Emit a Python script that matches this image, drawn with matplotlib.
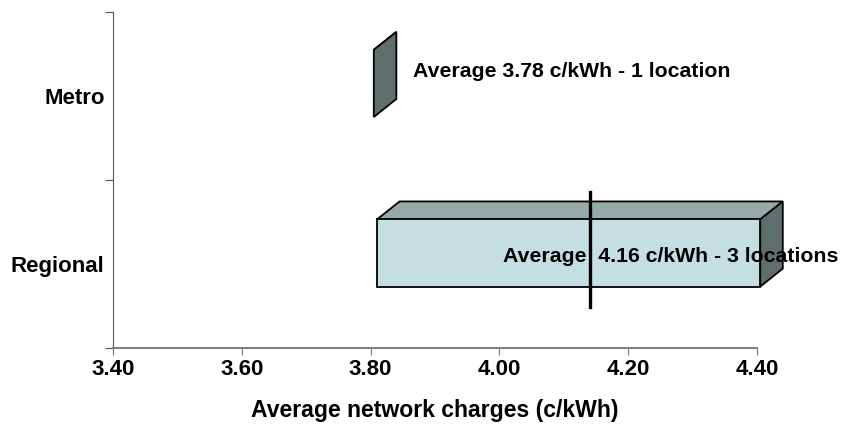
import matplotlib.pyplot as plt
from matplotlib.patches import Polygon

plt.rcParams['font.family'] = ['Liberation Sans', 'DejaVu Sans']
plt.rcParams['font.weight'] = 'bold'

categories = ['Regional', 'Metro']
bar_start = [3.81, 3.805]
bar_end = [4.405, 3.805]
avg_line = [4.14, None]
labels = ['Average  4.16 c/kWh - 3 locations', 'Average 3.78 c/kWh - 1 location']
label_x = [4.006, 3.866]

front_c = '#c5dee1'
top_c = '#95a9a9'
side_c = '#5f6f6e'

fig = plt.figure(figsize=(8.43, 4.30), dpi=100)
ax = fig.add_axes([0.134, 0.191, 0.764, 0.781])

h = 0.40
dx, dy = 0.035, 0.107
centers = [0.565, 1.575]

for i in range(len(categories)):
    x0, x1 = bar_start[i], bar_end[i]
    y0, y1 = centers[i] - h / 2, centers[i] + h / 2
    # top face
    ax.add_patch(Polygon([(x0, y1), (x1, y1), (x1 + dx, y1 + dy), (x0 + dx, y1 + dy)],
                         closed=True, fc=top_c, ec='black', lw=1.3, zorder=2, clip_on=False))
    # side face
    ax.add_patch(Polygon([(x1, y0), (x1, y1), (x1 + dx, y1 + dy), (x1 + dx, y0 + dy)],
                         closed=True, fc=side_c, ec='black', lw=1.3, zorder=2, clip_on=False))
    if x1 > x0:
        ax.barh(centers[i], x1 - x0, left=x0, height=h, color=front_c,
                edgecolor='black', linewidth=1.3, zorder=3, clip_on=False)
    if avg_line[i] is not None:
        ax.plot([avg_line[i], avg_line[i]], [0.244, 0.929], color='black', lw=2.4, zorder=4)
    ax.text(label_x[i], centers[i] - 0.02 if i == 0 else centers[i] + 0.07, labels[i],
            fontsize=15.3, fontweight='bold', va='center', ha='left', zorder=5)

ax.set_xlim(3.40, 4.40)
ax.set_ylim(0, 2)
ax.set_xticks([3.40, 3.60, 3.80, 4.00, 4.20, 4.40])
ax.set_xticklabels(['3.40', '3.60', '3.80', '4.00', '4.20', '4.40'], fontsize=16, fontweight='bold')
ax.set_yticks([0, 1, 2])
ax.set_yticklabels([])
ax.set_yticks([0.5, 1.5], minor=True)
ax.set_yticklabels(categories, minor=True, fontsize=16, fontweight='bold')
ax.tick_params(axis='y', which='minor', length=0, pad=6)
ax.tick_params(axis='y', which='major', length=6, color='#555555')
ax.tick_params(axis='x', length=5, color='#777777', pad=3)

for s in ['top', 'right']:
    ax.spines[s].set_visible(False)
ax.spines['left'].set_color('#555555')
ax.spines['bottom'].set_color('#808080')
ax.spines['bottom'].set_linewidth(1.5)
ax.set_xlabel('Average network charges (c/kWh)', fontsize=16.6, fontweight='bold', labelpad=14)

fig.savefig('out.png', dpi=100)
